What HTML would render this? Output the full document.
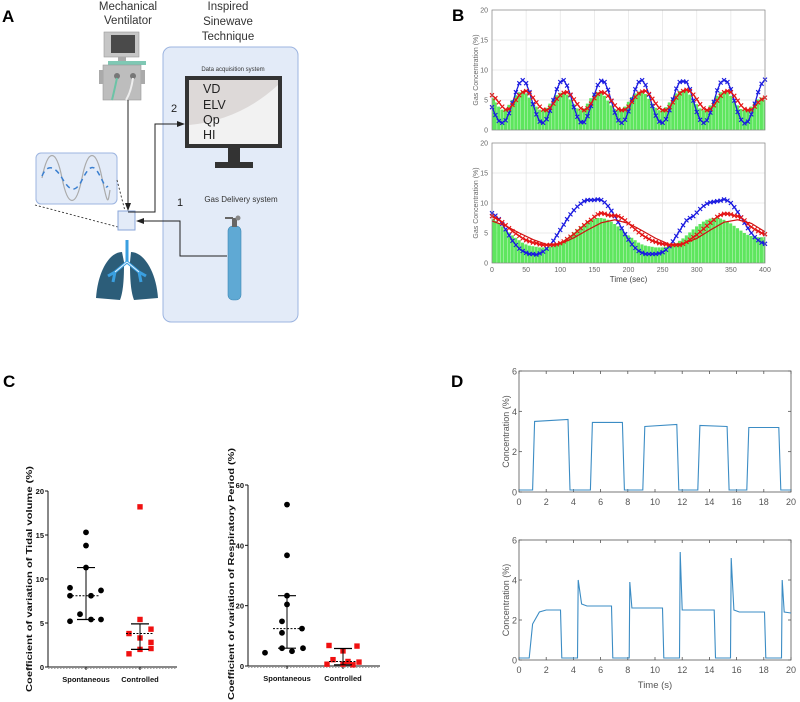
<!DOCTYPE html>
<html><head><meta charset="utf-8">
<style>
html,body{margin:0;padding:0;background:#fff;}
svg{display:block;font-family:"Liberation Sans",sans-serif;}
</style></head>
<body>
<svg id="fig" width="800" height="702" viewBox="0 0 800 702" xmlns="http://www.w3.org/2000/svg">
<!-- ================= PANEL A ================= -->
<g>
  <text x="2" y="22" font-size="17" font-weight="bold">A</text>
  <text x="128" y="10" font-size="11.5" fill="#333" text-anchor="middle">Mechanical</text>
  <text x="128" y="24" font-size="11.5" fill="#333" text-anchor="middle">Ventilator</text>
  <text x="228" y="10" font-size="11.5" fill="#333" text-anchor="middle">Inspired</text>
  <text x="228" y="25" font-size="11.5" fill="#333" text-anchor="middle">Sinewave</text>
  <text x="228" y="40" font-size="11.5" fill="#333" text-anchor="middle">Technique</text>
  <rect x="163" y="47" width="135" height="275" rx="8" fill="#e3ebf8" stroke="#9cb4e0" stroke-width="1"/>
  <g>
    <rect x="104" y="32" width="35" height="25" fill="#c6c6c6" stroke="#999" stroke-width="0.6"/>
    <rect x="111" y="35" width="24" height="18" fill="#4a4a4a"/>
    <rect x="118" y="57" width="8" height="4" fill="#aaa"/>
    <rect x="108" y="61" width="38" height="4" fill="#7fc8b4"/>
    <rect x="103" y="65" width="38" height="35" fill="#bdbdbd" stroke="#999" stroke-width="0.6"/>
    <rect x="99" y="70" width="4" height="14" fill="#aaa"/>
    <rect x="141" y="70" width="4" height="14" fill="#aaa"/>
    <circle cx="117" cy="76" r="3" fill="#777"/><circle cx="133" cy="76" r="3" fill="#777"/>
    <path d="M117 78 Q114 92 112 100" stroke="#6cc3a6" stroke-width="2" fill="none"/>
    <path d="M133 78 Q131 92 126 100" stroke="#eee" stroke-width="2" fill="none"/>
  </g>
  <g>
    <rect x="185" y="76" width="97" height="72" fill="#333"/>
    <rect x="189" y="80" width="89" height="64" fill="#ddd9d8"/>
    <path d="M189 144 L189 125 Q240 120 278 85 L278 144 Z" fill="#f2f2f2"/>
    <rect x="228" y="148" width="12" height="15" fill="#333"/>
    <rect x="215" y="162" width="38" height="6" fill="#333"/>
  </g>
  <text x="233" y="71" font-size="6" fill="#333" text-anchor="middle">Data acquisition system</text>
  <text x="203" y="93" font-size="12.5" fill="#222">VD</text>
  <text x="203" y="109" font-size="12.5" fill="#222">ELV</text>
  <text x="203" y="124" font-size="12.5" fill="#222">Qp</text>
  <text x="203" y="139" font-size="12.5" fill="#222">HI</text>
  <text x="171" y="112" font-size="11" fill="#222">2</text>
  <text x="177" y="206" font-size="11" fill="#222">1</text>
  <text x="241" y="202" font-size="8" fill="#333" text-anchor="middle">Gas Delivery system</text>
  <g>
    <rect x="228" y="226" width="13" height="74" rx="5" fill="#5fa9d4" stroke="#3f88b5" stroke-width="0.6"/>
    <rect x="232" y="218" width="5" height="9" fill="#666"/>
    <rect x="225" y="217" width="8" height="2" fill="#666"/>
    <circle cx="238" cy="218" r="2.5" fill="#888"/>
  </g>
  <g>
    <rect x="36" y="153" width="81" height="51" rx="5" fill="#e3ebf8" stroke="#9cb4e0" stroke-width="1"/>
    <path d="M42 178 C48 148,56 148,62 178 S76 208,82 178 S96 148,102 178 S108 202,110 190" stroke="#aaa" stroke-width="1.2" fill="none"/>
    <path d="M42 176 C48 162,56 168,62 178 S74 196,82 180 S94 164,100 176 S106 188,108 186" stroke="#3a7fd0" stroke-width="1.5" fill="none" stroke-dasharray="5 4"/>
  </g>
  <line x1="35" y1="205" x2="118" y2="227" stroke="#333" stroke-dasharray="2 2" stroke-width="0.9"/>
  <line x1="117" y1="180" x2="125" y2="211" stroke="#333" stroke-dasharray="2 2" stroke-width="0.9"/>
  <rect x="118" y="211" width="17" height="19" fill="#e3ebf8" stroke="#8aa6d8" stroke-width="1"/>
  <g stroke="#222" stroke-width="1" fill="none">
    <line x1="128" y1="100" x2="128" y2="205"/>
    <polyline points="128,212 135,212 155,212 155,124 180,124"/>
    <polyline points="227,256 180,256 180,221 141,221"/>
  </g>
  <polygon points="128,211 125,203 131,203" fill="#222"/>
  <polygon points="185,124 177,121 177,127" fill="#222"/>
  <polygon points="136,221 144,218 144,224" fill="#222"/>
  <g>
    <path d="M122 252 C110 252,98 270,96 298 L120 300 C124 290,124 272,124 262 Z" fill="#2c5d79"/>
    <path d="M131 252 C143 252,156 270,158 298 L134 300 C130 290,130 272,130 262 Z" fill="#2c5d79"/>
    <path d="M127 240 L127 262 M127 262 L115 272 L108 276 M115 272 L113 282 M127 262 L139 272 L146 276 M139 272 L141 282" stroke="#3a9fe0" stroke-width="3" fill="none"/>
    <path d="M127 262 L115 272 M127 262 L139 272" stroke="#e8f3ff" stroke-width="1" fill="none"/>
  </g>
</g>

<text x="452" y="21" font-size="17" font-weight="bold">B</text>
<g id="panelB"></g>

<text x="3" y="387" font-size="17" font-weight="bold">C</text>
<g id="panelC"></g>

<text x="451" y="387" font-size="17" font-weight="bold">D</text>
<g id="panelD"></g>
</svg>

<script>
// ---------- Panel B data (time step 5 s, 0..400) ----------
const bTimeStep = 5;
const bTicksX = [0,50,100,150,200,250,300,350,400];
const bTicksY = [0,5,10,15,20];
const bTopBlue = [3.8,2.5,1.5,1.2,1.6,2.8,4.5,6.3,7.8,8.3,7.8,6.3,4.3,2.6,1.4,1.2,1.8,3.2,5.0,6.8,8.0,8.3,7.4,5.8,3.8,2.2,1.3,1.3,2.3,4.0,5.9,7.5,8.2,8.0,6.7,4.8,2.9,1.6,1.2,1.7,3.1,5.0,6.8,8.0,8.3,7.5,5.9,4.0,2.4,1.4,1.2,1.8,3.3,5.1,6.9,8.0,8.1,8.0,6.8,4.9,3.0,1.7,1.2,1.6,2.9,4.7,6.6,7.9,8.3,8.0,6.8,4.9,3.0,1.7,1.1,1.4,2.6,4.4,6.3,7.7,8.4];
const bTopRed = [5.8,5.3,4.6,3.9,3.4,3.5,4.2,5.0,5.8,6.3,6.5,6.1,5.4,4.6,3.9,3.4,3.3,3.7,4.4,5.2,5.8,6.2,6.3,5.9,5.1,4.3,3.6,3.3,3.6,4.4,5.3,6.0,6.3,6.2,5.7,4.9,4.1,3.5,3.3,3.4,3.9,4.7,5.5,6.1,6.4,6.5,6.0,5.2,4.4,3.7,3.3,3.3,3.8,4.6,5.4,6.1,6.5,6.7,6.5,5.9,5.1,4.3,3.6,3.3,3.5,4.1,4.9,5.7,6.3,6.5,6.3,5.7,4.9,4.1,3.5,3.3,3.4,3.9,4.6,5.1,5.4];
const bTopGreen = [5.3,4.6,3.9,3.4,3.5,4.2,5.0,5.8,6.3,6.5,6.1,5.4,4.6,3.9,3.4,3.3,3.7,4.4,5.2,5.8,6.2,6.3,5.9,5.1,4.3,3.6,3.3,3.6,4.4,5.3,6.0,6.3,6.2,5.7,4.9,4.1,3.5,3.3,3.4,3.9,4.7,5.5,6.1,6.4,6.5,6.0,5.2,4.4,3.7,3.3,3.3,3.8,4.6,5.4,6.1,6.5,6.7,6.5,5.9,5.1,4.3,3.6,3.3,3.5,4.1,4.9,5.7,6.3,6.5,6.3,5.7,4.9,4.1,3.5,3.3,3.4,3.9,4.6,5.1,5.4,5.0];
const bBotBlue = [8.3,7.9,7.3,6.5,5.6,4.6,3.7,3.0,2.4,2.0,1.7,1.5,1.5,1.4,1.6,1.9,2.4,3.0,3.7,4.6,5.5,6.4,7.3,8.1,8.8,9.4,9.9,10.3,10.5,10.5,10.5,10.6,10.5,10.1,9.5,8.7,7.8,6.8,5.8,4.8,3.9,3.1,2.5,2.0,1.7,1.5,1.5,1.5,1.5,1.6,1.8,2.2,2.8,3.6,4.5,5.4,6.3,7.1,7.5,7.8,8.4,9.0,9.5,9.9,10.1,10.2,10.3,10.4,10.6,10.4,10.0,9.3,8.5,7.6,6.7,5.8,5.0,4.3,3.8,3.4,3.2];
const bBotRed = [7.8,7.5,7.2,6.8,6.3,5.8,5.3,4.9,4.5,4.1,3.8,3.6,3.4,3.3,3.1,3.0,3.0,3.0,3.0,3.1,3.3,3.6,4.0,4.4,4.8,5.3,5.8,6.3,6.8,7.2,7.7,8.1,8.3,8.2,8.0,7.9,7.9,7.8,7.5,7.1,6.6,6.1,5.6,5.1,4.7,4.3,4.0,3.7,3.5,3.3,3.2,3.1,3.0,3.0,3.0,3.0,3.2,3.5,3.9,4.3,4.7,5.2,5.7,6.2,6.7,7.2,7.7,8.0,8.2,8.2,8.1,7.9,7.8,7.6,7.1,6.5,6.0,5.6,5.3,5.0,4.8];
const bBotGreen = [7.3,7.0,6.6,6.1,5.6,5.1,4.6,4.2,3.8,3.4,3.1,2.9,2.8,2.7,2.6,2.6,2.6,2.7,2.8,3.0,3.3,3.7,4.1,4.6,5.1,5.6,6.1,6.5,6.9,7.2,7.4,7.5,7.5,7.4,7.2,6.9,6.5,6.1,5.6,5.1,4.6,4.2,3.8,3.4,3.1,2.9,2.8,2.7,2.6,2.6,2.6,2.7,2.8,3.0,3.3,3.7,4.1,4.6,5.1,5.6,6.1,6.5,6.9,7.2,7.4,7.5,7.5,7.4,7.2,6.9,6.6,6.2,5.8,5.4,5.0,4.7,4.5,4.4,4.3,4.3,4.3];
const bFitStep = 20;
const bBotFit = [7.0,6.2,5.0,3.9,3.1,3.2,4.2,5.5,6.7,7.2,6.6,5.4,4.1,3.1,3.2,4.1,5.5,6.8,7.2,6.6,5.2];

// ---------- Panel C data ----------
const cTvTicks = [0,5,10,15,20];
const cTvSpont = [15.3,13.8,11.3,9.0,8.1,8.1,8.7,6.0,5.2,5.4,5.4];
const cTvSpontJitter = [0,0,0,-16,-16,5,15,-6,-16,5,15];
const cTvCtrl = [18.2,5.4,4.3,3.8,3.3,2.8,2.0,2.1,1.5];
const cTvCtrlJitter = [0,0,11,-11,0,11,0,11,-11];
const cTvSpontStats = [5.4,8.1,11.3];
const cTvCtrlStats = [2.0,3.8,4.9];
const cRpTicks = [0,20,40,60];
const cRpSpont = [53.5,36.7,23.3,20.4,14.8,12.4,11.0,5.9,5.9,4.9,4.4];
const cRpSpontJitter = [0,0,0,0,-5,15,-5,-5,16,5,-22];
const cRpCtrl = [6.8,6.6,5.0,2.1,1.5,1.3,0.6,0.6,0.4];
const cRpCtrlJitter = [-14,14,0,-10,5,16,-16,0,10];
const cRpSpontStats = [5.9,12.4,23.3];
const cRpCtrlStats = [0.4,1.5,5.8];
const cGroups = ["Spontaneous","Controlled"];

// ---------- Panel D data ----------
const dTicksX = [0,2,4,6,8,10,12,14,16,18,20];
const dTicksY = [0,2,4,6];
const dTopT = [0,1.0,1.15,3.6,3.75,5.25,5.4,7.6,7.75,9.1,9.25,11.6,11.75,13.15,13.3,15.3,15.45,16.75,16.9,19.1,19.25,20];
const dTopV = [0.1,0.1,3.5,3.6,0.1,0.1,3.45,3.45,0.1,0.1,3.25,3.35,0.1,0.1,3.3,3.25,0.1,0.1,3.2,3.2,0.1,0.1];
const dBotT = [0,0.75,1.0,1.5,2.0,3.05,3.15,4.3,4.35,4.6,5.0,6.8,6.9,8.1,8.15,8.3,10.55,10.65,11.8,11.85,12.0,14.35,14.45,15.55,15.6,15.8,16.2,18.05,18.15,19.3,19.35,19.5,20];
const dBotV = [0.1,0.1,1.8,2.4,2.5,2.5,0.1,0.1,4.0,2.8,2.7,2.7,0.1,0.1,3.9,2.6,2.6,0.1,0.1,5.4,2.5,2.5,0.1,0.1,5.1,2.5,2.4,2.4,0.1,0.1,4.0,2.4,2.35];

const NS = "http://www.w3.org/2000/svg";
function mk(parent, tag, attrs){
  const e = document.createElementNS(NS, tag);
  for (const k in attrs) e.setAttribute(k, attrs[k]);
  parent.appendChild(e);
  return e;
}
function lin(d0,d1,r0,r1){ return v => r0 + (v-d0)*(r1-r0)/(d1-d0); }

// ================= Panel B =================
const gB = document.getElementById('panelB');
function drawB(y20, y0, green, blue, red, fit, showX, nm){
  const X0=492, X1=765;
  const sx = lin(0,400,X0,X1), sy = lin(0,20,y0,y20);
  const g = mk(gB,'g',{});
  
  
  mk(g,'rect',{x:X0,y:y20,width:X1-X0,height:y0-y20,fill:'#fff'});
  bTicksX.forEach(t=>{
    const l = mk(g,'line',{x1:sx(t),x2:sx(t),y1:y20,y2:y0,stroke:'#e4e4e4','stroke-width':0.7});
    
    
  });
  bTicksY.forEach(t=>{
    const l = mk(g,'line',{x1:X0,x2:X1,y1:sy(t),y2:sy(t),stroke:'#e4e4e4','stroke-width':0.7});
    
    
    const tx = mk(g,'text',{x:X0-4,y:sy(t)+2.5,'font-size':7,fill:'#666','text-anchor':'end'});
    tx.textContent = t;
    
    
  });
  const bw = (sx(bTimeStep)-sx(0));
  green.forEach((v,i)=>{
    const x = sx(i*bTimeStep);
    const r = mk(g,'rect',{x:Math.max(X0,x-bw/2),y:sy(v),width:Math.min(bw*0.9, X1-Math.max(X0,x-bw/2)),height:y0-sy(v),fill:'#5ee65e'});
    
    
  });
  function series(vals, color, name){
    const pts = vals.map((v,i)=>sx(i*bTimeStep).toFixed(1)+','+sy(v).toFixed(1)).join(' ');
    const pl = mk(g,'polyline',{points:pts,fill:'none',stroke:color,'stroke-width':1.3});
    
    
    vals.forEach((v,i)=>{
      const x=sx(i*bTimeStep), y=sy(v), s=2;
      const p = mk(g,'path',{d:`M${x-s} ${y-s}L${x+s} ${y+s}M${x-s} ${y+s}L${x+s} ${y-s}`,stroke:color,'stroke-width':1.1});
      
      
    });
  }
  series(blue,'#1a1ae0','expired-gas');
  if (fit){
    const pts = fit.map((v,i)=>sx(i*bFitStep).toFixed(1)+','+sy(v).toFixed(1)).join(' ');
    const fl = mk(g,'polyline',{points:pts,fill:'none',stroke:'#d01010','stroke-width':1.2});
    
    
  }
  series(red,'#e41414','inspired-gas');
  const bx = mk(g,'rect',{x:X0,y:y20,width:X1-X0,height:y0-y20,fill:'none',stroke:'#888','stroke-width':0.7});
  
  
  if (showX){
    bTicksX.forEach(t=>{
      const tx = mk(g,'text',{x:sx(t),y:y0+9,'font-size':7,fill:'#666','text-anchor':'middle'});
      tx.textContent = t;
      
      
    });
    const xt = mk(g,'text',{x:(X0+X1)/2,y:y0+19,'font-size':8,fill:'#444','text-anchor':'middle'});
    xt.textContent = 'Time (sec)';
    
    
  }
  const yt = mk(g,'text',{x:0,y:0,'font-size':7,fill:'#666','text-anchor':'middle',transform:`translate(478,${(y0+y20)/2}) rotate(-90)`});
  yt.textContent = 'Gas Concentration (%)';
  
  
}
drawB(10,130,bTopGreen,bTopBlue,bTopRed,null,false,'b-top-chart');
drawB(143,263,bBotGreen,bBotBlue,bBotRed,bBotFit,true,'b-bottom-chart');

// ================= Panel C =================
const gC = document.getElementById('panelC');
function drawC(o){
  const g = mk(gC,'g',{});
  
  
  const sy = lin(0,o.max,o.y0,o.yTop);
  const ax = mk(g,'line',{x1:o.ax,x2:o.ax,y1:o.y0,y2:sy(o.max),stroke:'#111','stroke-width':1});
  
  
  const xa = mk(g,'line',{x1:o.ax,x2:o.xEnd,y1:o.y0,y2:o.y0,stroke:'#111','stroke-width':1});
  
  
  mk(g,'line',{x1:o.ax,x2:o.xEnd,y1:o.y0+1.5,y2:o.y0+1.5,stroke:'#555','stroke-width':0.6,'stroke-dasharray':'1.5 1.5'});
  o.ticks.forEach(t=>{
    mk(g,'line',{x1:o.ax-3,x2:o.ax,y1:sy(t),y2:sy(t),stroke:'#111','stroke-width':1});
    const tx = mk(g,'text',{x:o.ax-4,y:sy(t)+3,'font-size':7.5,'font-weight':'bold','text-anchor':'end',fill:'#111'});
    tx.textContent = t;
    
    
  });
  const cx = [o.cx1,o.cx2];
  cGroups.forEach((gname,i)=>{
    mk(g,'line',{x1:cx[i],x2:cx[i],y1:o.y0,y2:o.y0+3,stroke:'#111'});
    const tx = mk(g,'text',{x:cx[i],y:o.y0+15,'font-size':7.5,'font-weight':'bold','text-anchor':'middle',fill:'#111'});
    tx.textContent = gname;
    
    
  });
  function stats(s, x, color){
    mk(g,'line',{x1:x,x2:x,y1:sy(s[0]),y2:sy(s[2]),stroke:color,'stroke-width':1});
    mk(g,'line',{x1:x-9,x2:x+9,y1:sy(s[0]),y2:sy(s[0]),stroke:color,'stroke-width':1.2});
    mk(g,'line',{x1:x-9,x2:x+9,y1:sy(s[2]),y2:sy(s[2]),stroke:color,'stroke-width':1.2});
    const m = mk(g,'line',{x1:x-14,x2:x+14,y1:sy(s[1]),y2:sy(s[1]),stroke:color,'stroke-width':1,'stroke-dasharray':'2 1.5'});
    
    
  }
  o.spont.forEach((v,i)=>{
    const c = mk(g,'circle',{cx:cx[0]+o.sj[i],cy:sy(v),r:2.9,fill:'#000'});
    
    
  });
  o.ctrl.forEach((v,i)=>{
    const r = mk(g,'rect',{x:cx[1]+o.cj[i]-2.7,y:sy(v)-2.7,width:5.4,height:5.4,fill:'#f01010'});
    
    
  });
  stats(o.ss,cx[0],'#000');
  stats(o.cs,cx[1],'#000');
  const yt = mk(g,'text',{x:0,y:0,'font-size':8.5,'font-weight':'bold','text-anchor':'middle',fill:'#111',textLength:o.tl,lengthAdjust:'spacingAndGlyphs',transform:`translate(${o.tx},${o.ty}) rotate(-90)`});
  yt.textContent = o.title;
  
  
}
drawC({name:'c-tidal-volume-chart',max:20,ticks:cTvTicks,y0:667,yTop:491,ax:48,xEnd:177,cx1:86,cx2:140,
  spont:cTvSpont,sj:cTvSpontJitter,ctrl:cTvCtrl,cj:cTvCtrlJitter,ss:cTvSpontStats,cs:cTvCtrlStats,
  title:'Coefficient of variation of Tidal volume (%)',tx:32,ty:579,tl:226});
drawC({name:'c-respiratory-period-chart',max:60,ticks:cRpTicks,y0:666,yTop:485,ax:248,xEnd:380,cx1:287,cx2:343,
  spont:cRpSpont,sj:cRpSpontJitter,ctrl:cRpCtrl,cj:cRpCtrlJitter,ss:cRpSpontStats,cs:cRpCtrlStats,
  title:'Coefficient of variation of Respiratory Period (%)',tx:234,ty:574,tl:252});

// ================= Panel D =================
const gD = document.getElementById('panelD');
function drawD(y6, y0, T, V, showTitle, nm){
  const X0=519, X1=791;
  const sx = lin(0,20,X0,X1), sy = lin(0,6,y0,y6);
  const g = mk(gD,'g',{});
  
  
  const bx = mk(g,'rect',{x:X0,y:y6,width:X1-X0,height:y0-y6,fill:'#fff',stroke:'#555','stroke-width':0.8});
  
  
  dTicksX.forEach(t=>{
    mk(g,'line',{x1:sx(t),x2:sx(t),y1:y0,y2:y0-3,stroke:'#555','stroke-width':0.8});
    mk(g,'line',{x1:sx(t),x2:sx(t),y1:y6,y2:y6+3,stroke:'#555','stroke-width':0.8});
    const tx = mk(g,'text',{x:sx(t),y:y0+13,'font-size':9,fill:'#555','text-anchor':'middle'});
    tx.textContent = t;
    
    
  });
  dTicksY.forEach(t=>{
    mk(g,'line',{x1:X0,x2:X0+3,y1:sy(t),y2:sy(t),stroke:'#555','stroke-width':0.8});
    mk(g,'line',{x1:X1,x2:X1-3,y1:sy(t),y2:sy(t),stroke:'#555','stroke-width':0.8});
    const tx = mk(g,'text',{x:X0-2,y:sy(t)+3.5,'font-size':9,fill:'#555','text-anchor':'end'});
    tx.textContent = t;
    
    
  });
  const pts = T.map((t,i)=>sx(t).toFixed(1)+','+sy(V[i]).toFixed(1)).join(' ');
  const pl = mk(g,'polyline',{points:pts,fill:'none',stroke:'#3b8cc4','stroke-width':1.1});
  
  
  const yt = mk(g,'text',{x:0,y:0,'font-size':9,fill:'#555','text-anchor':'middle',transform:`translate(509,${(y0+y6)/2}) rotate(-90)`});
  yt.textContent = 'Concentration (%)';
  
  
  if (showTitle){
    const xt = mk(g,'text',{x:(X0+X1)/2,y:y0+28,'font-size':9.5,fill:'#555','text-anchor':'middle'});
    xt.textContent = 'Time (s)';
    
    
  }
}
drawD(371,492,dTopT,dTopV,false,'d-top-chart');
drawD(540,660,dBotT,dBotV,true,'d-bottom-chart');
</script>
</body></html>
